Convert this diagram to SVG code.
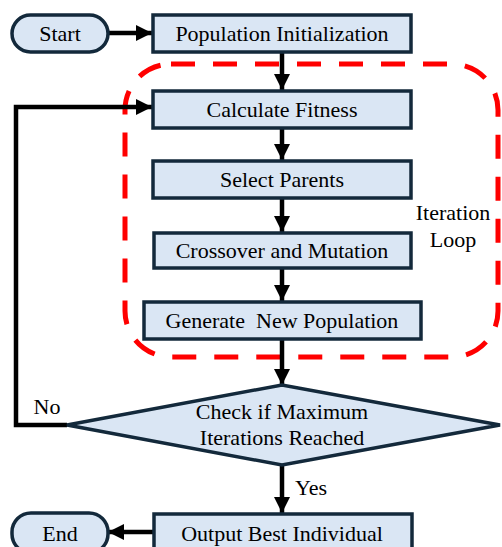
<svg xmlns="http://www.w3.org/2000/svg" width="502" height="547" viewBox="0 0 502 547">
<style>
.box{fill:#dae6f4;stroke:#13293b;stroke-width:3.5}
.t{font-family:"Liberation Serif","Times New Roman",serif;font-size:22px;fill:#000;text-anchor:middle;white-space:pre}
.c{fill:none;stroke:#000;stroke-width:4.5}
</style>
<defs>
<marker id="ah" markerUnits="userSpaceOnUse" markerWidth="16" markerHeight="16" viewBox="0 0 16 16" refX="16" refY="8" orient="auto">
<path d="M0,0 L16,8 L0,16 z" fill="#000"/>
</marker>
</defs>
<rect x="0" y="0" width="502" height="547" fill="#fff"/>
<g id="loop">
<rect x="125" y="64" width="373" height="293" rx="46" fill="none" stroke="#ff0000" stroke-width="5" stroke-dasharray="24 18"/>
<text class="t" x="453" y="220">Iteration</text>
<text class="t" x="453" y="247">Loop</text>
</g>
<g id="connectors">
<line class="c" x1="108" y1="33" x2="152" y2="33" marker-end="url(#ah)"/>
<line class="c" x1="282" y1="52" x2="282" y2="90" marker-end="url(#ah)"/>
<line class="c" x1="282" y1="128" x2="282" y2="160" marker-end="url(#ah)"/>
<line class="c" x1="282" y1="198" x2="282" y2="232" marker-end="url(#ah)"/>
<line class="c" x1="282" y1="268" x2="282" y2="301" marker-end="url(#ah)"/>
<line class="c" x1="282" y1="339" x2="282" y2="385" marker-end="url(#ah)"/>
<line class="c" x1="282" y1="465" x2="282" y2="513" marker-end="url(#ah)"/>
<polyline class="c" points="67,425 16,425 16,107 152,107" marker-end="url(#ah)"/>
<line class="c" x1="153" y1="532" x2="108" y2="532" marker-end="url(#ah)"/>
<text class="t" x="47" y="414">No</text>
<text class="t" x="311" y="495">Yes</text>
</g>
<g id="start">
<rect class="box" x="12" y="15" width="96" height="37" rx="18.5"/>
<text class="t" x="60" y="41">Start</text>
</g>
<g id="init">
<rect class="box" x="153" y="15" width="258" height="37"/>
<text class="t" x="282" y="41">Population Initialization</text>
</g>
<g id="fitness">
<rect class="box" x="153" y="91" width="258" height="37"/>
<text class="t" x="282" y="117">Calculate Fitness</text>
</g>
<g id="select">
<rect class="box" x="153" y="161" width="258" height="37"/>
<text class="t" x="282" y="187">Select Parents</text>
</g>
<g id="crossover">
<rect class="box" x="154" y="233" width="257" height="35"/>
<text class="t" x="282" y="258">Crossover and Mutation</text>
</g>
<g id="generate">
<rect class="box" x="144" y="302" width="277" height="37"/>
<text class="t" x="282" y="328">Generate  New Population</text>
</g>
<g id="check">
<polygon class="box" points="67,425 282,385 500,425 282,465"/>
<text class="t" x="282" y="419">Check if Maximum</text>
<text class="t" x="282" y="445">Iterations Reached</text>
</g>
<g id="output">
<rect class="box" x="154" y="514" width="258" height="40"/>
<text class="t" x="282" y="541">Output Best Individual</text>
</g>
<g id="end">
<rect class="box" x="12" y="513" width="96" height="40" rx="19"/>
<text class="t" x="60" y="541">End</text>
</g>
</svg>
